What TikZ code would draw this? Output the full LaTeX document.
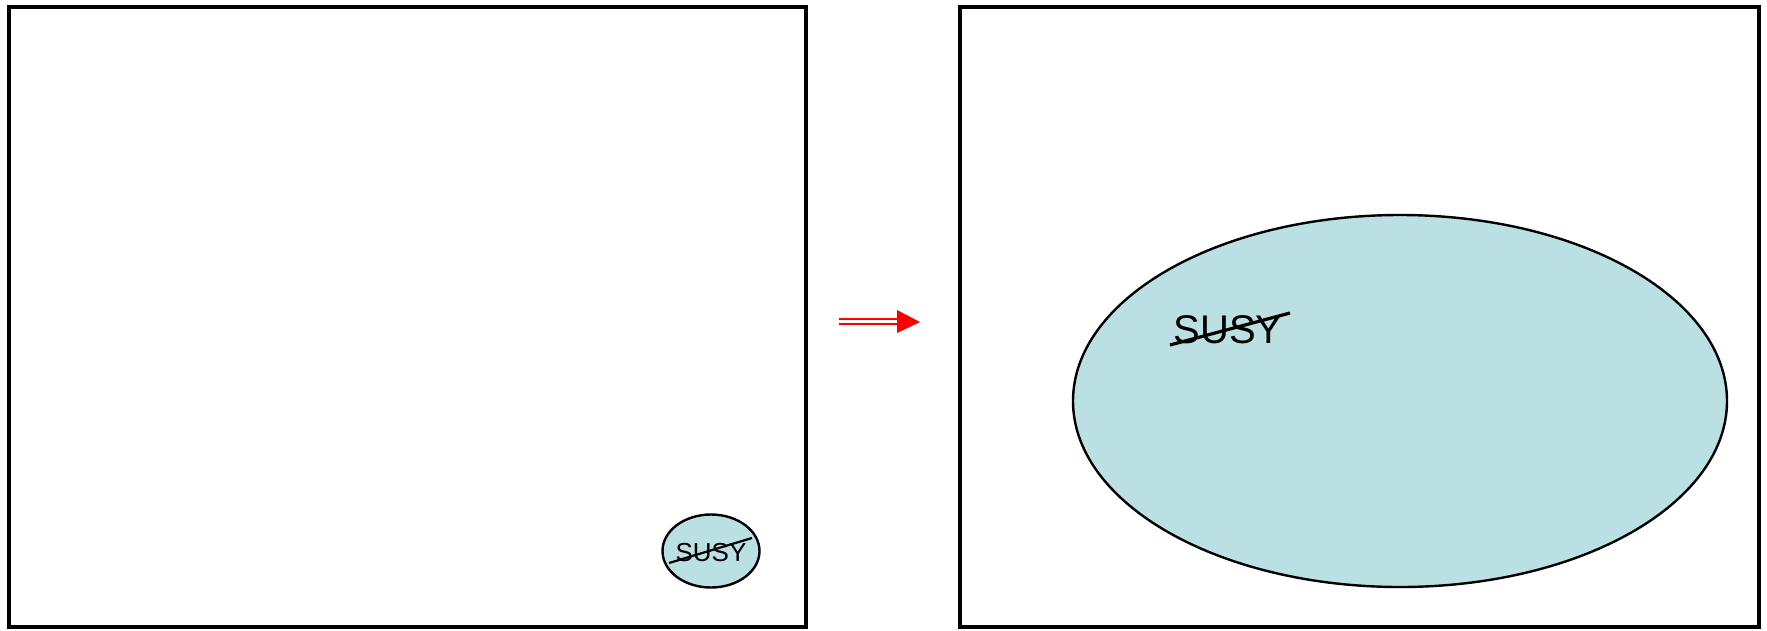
\documentclass[tikz,border=0pt]{standalone}
\usepackage{fontspec}
\setmainfont{Liberation Sans}
\definecolor{susyfill}{HTML}{BBE0E3}
\begin{document}
\begin{tikzpicture}[x=1pt,y=-1pt,
  frame/.style={draw=black,line width=3.8pt},
  blob/.style={draw=black,line width=2.4pt,fill=susyfill},
  strike/.style={draw=black,line width=3.2pt}]
\useasboundingbox (0,0) rectangle (1767,630);
\node[frame,minimum width=797pt,minimum height=620pt,inner sep=0pt] (leftbox) at (407.5,317) {};
\node[frame,minimum width=799pt,minimum height=620pt,inner sep=0pt] (rightbox) at (1359.5,317) {};
\draw[blob] (711,551) ellipse [x radius=48.5pt,y radius=36.5pt];
\node[font=\fontsize{26}{26}\selectfont,inner sep=0pt,anchor=base] (small) at (711,561) {SUSY};
\draw[strike,line width=2.2pt] (669,563) -- (752,538);
\draw[blob] (1400,401) ellipse [x radius=327pt,y radius=186pt];
\node[font=\fontsize{40}{40}\selectfont,inner sep=0pt,anchor=base] (big) at (1228,343) {SUSY};
\draw[strike] (1170,345) -- (1290,313);
\coordinate (a1) at (839,321.5);
\coordinate (a2) at (898,321.5);
\draw[red,double=white,double distance=2.2pt,line width=2pt] (a1) -- (a2);
\fill[red] (897,310) -- (920,322) -- (897,333) -- cycle;
\end{tikzpicture}
\end{document}
